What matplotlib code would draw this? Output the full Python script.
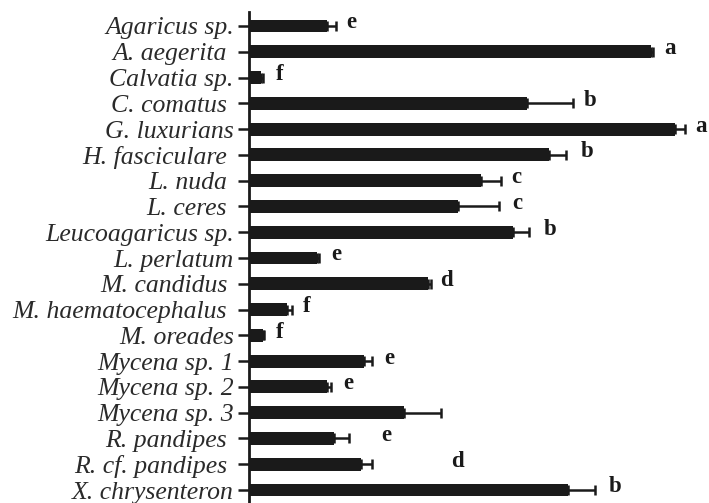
import matplotlib.pyplot as plt
import numpy as np

# Species and measurements (arbitrary units, mean and standard error)
species = ['Agaricus sp.', 'A. aegerita ', 'Calvatia sp.', 'C. comatus ', 'G. luxurians',
           'H. fasciculare ', 'L. nuda ', 'L. ceres ', 'Leucoagaricus sp.', 'L. perlatum',
           'M. candidus ', 'M. haematocephalus ', 'M. oreades', 'Mycena sp. 1', 'Mycena sp. 2',
           'Mycena sp. 3', 'R. pandipes ', 'R. cf. pandipes ', 'X. chrysenteron']
means = [78, 402, 12, 278, 426, 300, 232, 209, 264, 68, 179, 38, 14, 115, 78, 155, 85, 112, 319]
errors = [9, 2, 2, 46, 10, 17, 20, 41, 16, 2, 3, 5, 1, 8, 4, 37, 15, 11, 27]
letters = ['e', 'a', 'f', 'b', 'a', 'b', 'c', 'c', 'b', 'e', 'd', 'f', 'f', 'e', 'e', '', 'e', 'd', 'b']
letter_x = [102, 421, 31, 341, 452, 338, 267, 268, 301, 87, 197, 58, 31, 140, 99, 0, 137, 208, 366]

fig = plt.figure(figsize=(7.09, 5.03), dpi=100)
ax = fig.add_axes([249 / 709, 0, 460 / 709, 491 / 503])

y = np.arange(len(species))
ax.barh(y, means, height=0.5, color='#1a1a1a',
        xerr=[np.zeros(len(errors)), errors],
        error_kw=dict(ecolor='#1a1a1a', elinewidth=1.8, capsize=3.3, capthick=1.8))

# significance letters
for yi, lx, lt in zip(y, letter_x, letters):
    if lt:
        ax.text(lx, yi - 0.12, lt, ha='center', va='center', fontsize=16.5,
                fontweight='bold', family='Liberation Serif', color='#1a1a1a')

ax.set_xlim(0, 460)
ax.set_ylim(18.504, -0.543)
ax.set_yticks(y)
ax.set_yticklabels(species, fontsize=18.5, style='italic', family='Liberation Serif',
                   color='#2a2a2a')
ax.tick_params(axis='y', length=8, width=1.8, pad=3, color='#1a1a1a')
ax.set_xticks([])
for side in ['top', 'right', 'bottom']:
    ax.spines[side].set_visible(False)
ax.spines['left'].set_linewidth(2)
ax.spines['left'].set_color('#1a1a1a')

fig.savefig('out.png', dpi=100)
